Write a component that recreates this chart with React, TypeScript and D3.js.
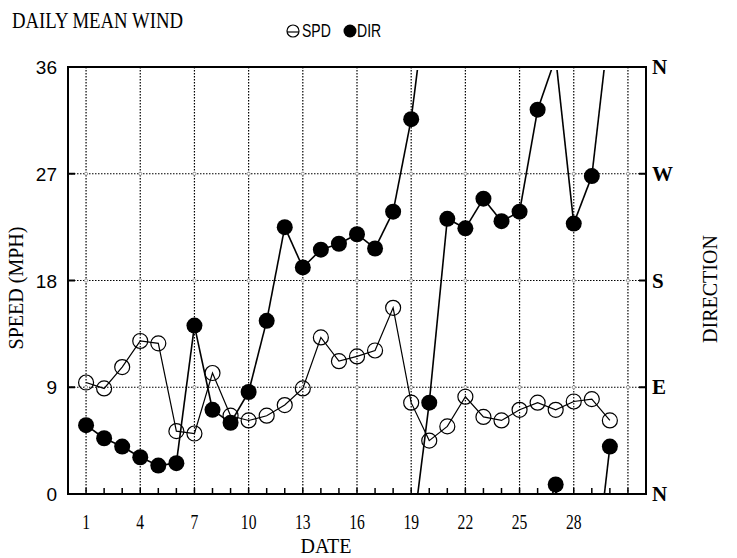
import React from 'react';
import * as d3 from 'd3';

// daily values
const dates = [1, 2, 3, 4, 5, 6, 7, 8, 9, 10, 11, 12, 13, 14, 15, 16, 17, 18, 19, 20, 21, 22, 23, 24, 25, 26, 27, 28, 29, 30];
const speed = [9.4, 8.9, 10.7, 12.9, 12.7, 5.3, 5.1, 10.2, 6.6, 6.2, 6.6, 7.5, 8.9, 13.2, 11.2, 11.6, 12.1, 15.7, 7.7, 4.5, 5.7, 8.2, 6.5, 6.2, 7.1, 7.7, 7.1, 7.8, 8.0, 6.2];
const direction = [58, 47, 40, 31, 24, 26, 142, 71, 60, 86, 146, 225, 191, 206, 211, 219, 207, 238, 316, 77, 232, 224, 249, 230, 238, 324, 8, 228, 268, 40];

const speedTicks = [0, 9, 18, 27, 36];
const dirTicks = [0, 90, 180, 270, 360];
const dirLabels = ['N', 'E', 'S', 'W', 'N'];
const dateLabels = [1, 4, 7, 10, 13, 16, 19, 22, 25, 28];
const gridDates = [1, 4, 7, 10, 13, 16, 19, 22, 25, 28, 31];
const minorDates = [1, 2, 3, 4, 5, 6, 7, 8, 9, 10, 11, 12, 13, 14, 15, 16, 17, 18, 19, 20, 21, 22, 23, 24, 25, 26, 27, 28, 29, 30, 31];
const gridSpeeds = [9, 18, 27];

const W = 737;
const H = 558;
const m = { l: 68, r: 646, t: 67, b: 494 };

const serif = '"Liberation Serif", "Times New Roman", serif';
const sans = '"Liberation Sans", Arial, sans-serif';

export default function App() {
  const x = d3.scaleLinear().domain([0, 32]).range([m.l, m.r]);
  const y = d3.scaleLinear().domain([0, 36]).range([m.b, m.t]);
  const yd = d3.scaleLinear().domain([0, 360]).range([m.b, m.t]);

  const spdPath = d3.line<number>().x((_, i) => x(dates[i])).y(d => y(d))(speed) || '';

  // direction wraps round N, so a jump takes the short way and leaves the frame
  const segs: [number, number][][] = [];
  for (let i = 1; i < direction.length; i++) {
    const a = direction[i - 1];
    const b = direction[i];
    const x0 = dates[i - 1];
    const x1 = dates[i];
    const diff = b - a;
    if (diff < -180) {
      segs.push([[x0, a], [x1, b + 360]]);
      segs.push([[x0, a - 360], [x1, b]]);
    } else if (diff > 180) {
      segs.push([[x0, a], [x1, b - 360]]);
      segs.push([[x0, a + 360], [x1, b]]);
    } else {
      segs.push([[x0, a], [x1, b]]);
    }
  }
  const dirLine = d3.line<[number, number]>().x(d => x(d[0])).y(d => yd(d[1]));

  return (
    <div style={{ position: 'absolute', left: 0, top: 0 }}>
      <svg width={W} height={H} style={{ display: 'block', background: '#fff' }}>
        <defs>
          <clipPath id="plot">
            <rect x={m.l} y={m.t + 3} width={m.r - m.l} height={m.b - m.t - 3} />
          </clipPath>
        </defs>

        <text x={12} y={28} fontFamily={serif} fontSize={23} textLength={171} lengthAdjust="spacingAndGlyphs">DAILY MEAN WIND</text>

        {/* legend */}
        <circle cx={293} cy={31} r={6} fill="none" stroke="#000" strokeWidth={1.2} />
        <line x1={287} x2={299} y1={32} y2={32} stroke="#000" strokeWidth={1.2} />
        <text transform="translate(302,37) scale(0.78,1)" fontFamily={sans} fontSize={18}>SPD</text>
        <circle cx={350} cy={31} r={6.5} fill="#000" />
        <text transform="translate(357,37) scale(0.78,1)" fontFamily={sans} fontSize={18}>DIR</text>

        {/* grid */}
        {gridDates.map(d => (
          <line key={'gx' + d} x1={x(d)} x2={x(d)} y1={m.t} y2={m.b} stroke="#000" strokeWidth={1.2} strokeDasharray="1.5,1.5" />
        ))}
        {gridSpeeds.map(v => (
          <line key={'gy' + v} x1={m.l} x2={m.r} y1={y(v)} y2={y(v)} stroke="#000" strokeWidth={1.2} strokeDasharray="1.5,1.5" />
        ))}
        {gridDates.map(d => gridSpeeds.map(v => (
          <circle key={'gc' + d + '-' + v} cx={x(d)} cy={y(v)} r={1.6} fill="#fff" stroke="#888" strokeWidth={0.8} />
        )))}

        {/* ticks */}
        {minorDates.map(d => (
          <line key={'t' + d} x1={x(d)} x2={x(d)} y1={m.b} y2={m.b - 6} stroke="#000" strokeWidth={1.5} />
        ))}
        {gridSpeeds.map(v => (
          <g key={'ty' + v}>
            <line x1={m.l} x2={m.l + 7} y1={y(v)} y2={y(v)} stroke="#000" strokeWidth={2} />
            <line x1={m.r - 7} x2={m.r} y1={y(v)} y2={y(v)} stroke="#000" strokeWidth={2} />
          </g>
        ))}

        <rect x={m.l} y={m.t} width={m.r - m.l} height={m.b - m.t} fill="none" stroke="#000" strokeWidth={2} />

        {/* speed */}
        <path d={spdPath} fill="none" stroke="#000" strokeWidth={1.2} />

        {/* direction */}
        <g clipPath="url(#plot)">
          {segs.map((s, i) => (
            <path key={'s' + i} d={dirLine(s) || ''} fill="none" stroke="#000" strokeWidth={1.6} />
          ))}
        </g>

        {speed.map((v, i) => (
          <circle key={'sp' + i} cx={x(dates[i])} cy={y(v)} r={7.5} fill="none" stroke="#000" strokeWidth={1.2} />
        ))}
        {direction.map((v, i) => (
          <circle key={'dr' + i} cx={x(dates[i])} cy={yd(v)} r={8} fill="#000" />
        ))}

        {/* axis labels */}
        {speedTicks.map(v => (
          <text key={'yl' + v} x={57} y={y(v) + 7} textAnchor="end" fontFamily={sans} fontSize={19}>{v}</text>
        ))}
        {dirTicks.map((v, i) => (
          <text key={'dl' + i} x={652} y={yd(v) + 7} fontFamily={serif} fontWeight="bold" fontSize={21}>{dirLabels[i]}</text>
        ))}
        {dateLabels.map(d => (
          <text key={'xl' + d} transform={`translate(${x(d)},529) scale(0.78,1)`} textAnchor="middle" fontFamily={serif} fontSize={20}>{d}</text>
        ))}

        <text x={326} y={553} textAnchor="middle" fontFamily={serif} fontSize={20}>DATE</text>
        <text transform="translate(23,288) rotate(-90)" textAnchor="middle" fontFamily={serif} fontSize={20}>SPEED (MPH)</text>
        <text transform="translate(717,289) rotate(-90)" textAnchor="middle" fontFamily={serif} fontSize={20}>DIRECTION</text>
      </svg>
    </div>
  );
}
